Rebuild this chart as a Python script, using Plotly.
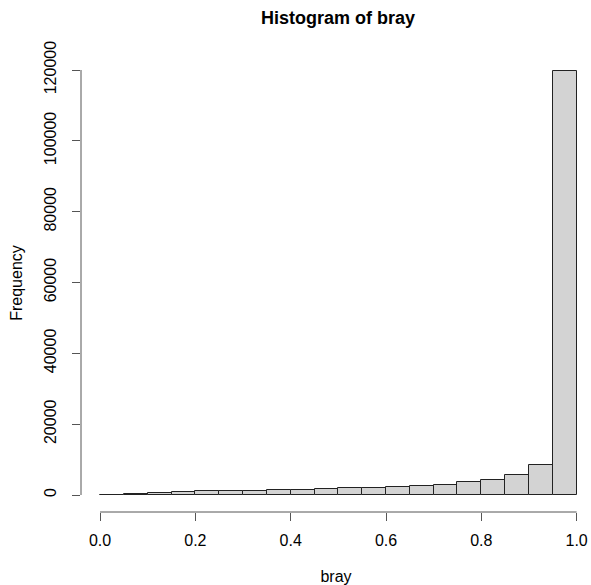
import plotly.graph_objects as go

# Histogram data (bin edges 0..1 by 0.05)
bin_starts = [0.00, 0.05, 0.10, 0.15, 0.20, 0.25, 0.30, 0.35, 0.40, 0.45,
              0.50, 0.55, 0.60, 0.65, 0.70, 0.75, 0.80, 0.85, 0.90, 0.95]
counts = [100, 300, 600, 900, 1000, 1200, 1250, 1400, 1500, 1700,
          1900, 1950, 2200, 2500, 2800, 3600, 4200, 5600, 8400, 119600]
bin_width = 0.05
x_ticks = [0.0, 0.2, 0.4, 0.6, 0.8, 1.0]
x_tick_labels = ["0.0", "0.2", "0.4", "0.6", "0.8", "1.0"]
y_ticks = [0, 20000, 40000, 60000, 80000, 100000, 120000]
y_tick_labels = [str(v) for v in y_ticks]

centers = [s + bin_width / 2 for s in bin_starts]

FONT = "Liberation Sans, Arial, Helvetica, sans-serif"

fig = go.Figure()
fig.add_trace(go.Bar(
    x=centers, y=counts, width=[bin_width] * len(counts),
    marker=dict(color="#d3d3d3", line=dict(color="#222222", width=1)),
    hoverinfo="x+y",
))

W, H = 591, 585
ml, mr, mt, mb = 81, 0, 54, 73
fig.update_layout(
    width=W, height=H,
    margin=dict(l=ml, r=mr, t=mt, b=mb, autoexpand=False),
    paper_bgcolor="white", plot_bgcolor="white",
    showlegend=False,
    font=dict(family=FONT, size=16, color="black"),
    title=dict(text="<b>Histogram of bray</b>", x=(338) / W, xanchor="center",
               y=1 - 18 / H, yanchor="middle",
               font=dict(family=FONT, size=18, color="black")),
    bargap=0,
)
fig.update_xaxes(
    range=[-0.04, (591 - 99.3) / 477.3],
    automargin=False,
    tickmode="array", tickvals=x_ticks, ticktext=x_tick_labels,
    ticks="outside", ticklen=8, tickwidth=1, tickcolor="#555555",
    showgrid=False, zeroline=False, showline=False,
    ticklabelstandoff=6,
    title=dict(text="bray", standoff=23, font=dict(size=16)),
)
fig.update_yaxes(
    range=[-4800, 124518],
    automargin=False,
    tickmode="array", tickvals=y_ticks, ticktext=y_tick_labels,
    tickangle=-90,
    ticks="outside", ticklen=8, tickwidth=1, tickcolor="#555555",
    showgrid=False, zeroline=False, showline=False,
    ticklabelstandoff=10,
    title=dict(text="Frequency", standoff=14, font=dict(size=16)),
)
# R-style detached axis lines spanning first to last tick
fig.add_shape(type="line", xref="x", yref="paper", x0=x_ticks[0], x1=x_ticks[-1],
              y0=0, y1=0, line=dict(color="#555555", width=1))
fig.add_shape(type="line", xref="paper", yref="y", x0=0, x1=0,
              y0=y_ticks[0], y1=y_ticks[-1], line=dict(color="#555555", width=1))

fig.write_html(
    "out.html",
    config={"displayModeBar": False},
    post_script="document.body.style.margin='0';document.body.style.overflow='hidden';",
)
